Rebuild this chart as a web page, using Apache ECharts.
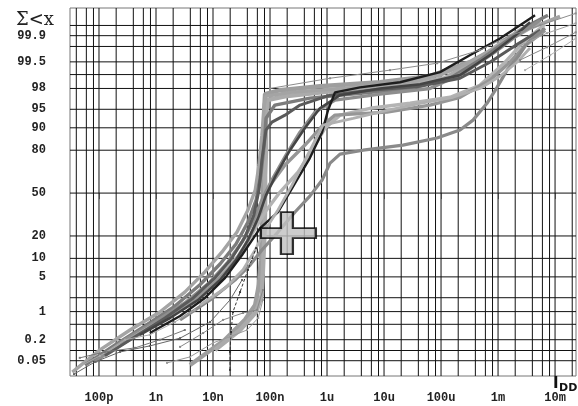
<!DOCTYPE html>
<html>
<head>
<meta charset="utf-8">
<style>
  html, body { margin: 0; padding: 0; background: #fff; }
  #chart { width: 578px; height: 406px; }
</style>
<script src="https://cdn.jsdelivr.net/npm/echarts@6.0.0/dist/echarts.min.js"></script>
</head>
<body>
<div id="chart"></div>
<script>
// Cumulative distribution of supply current I_DD on a normal-probability scale.
// Each curve: [current in A, cumulative percent].
const curveA = [[3.4e-11,0.022],[1.04e-10,0.104],[3.5e-10,0.36],[1.17e-9,0.98],[3.2e-9,2.6],[7.2e-9,6.1],[1.44e-8,12.4],[2.64e-8,22.2],[4.1e-8,37.0],[5.5e-8,52.3],[6.4e-8,70.9],[7.2e-8,87.2],[7.9e-8,95.8],[8.5e-8,97.14],[2.24e-7,97.6],[1.69e-6,98.0],[1.91e-5,98.37],[9.6e-5,98.97],[3.2e-4,99.49],[1.08e-3,99.81],[3.64e-3,99.939],[1.22e-2,99.974]];
const curveB = [[5.7e-11,0.037],[1.91e-10,0.144],[6.4e-10,0.455],[2.15e-9,1.33],[5.9e-9,3.6],[1.33e-8,8.2],[2.53e-8,15.9],[4.1e-8,28.5],[5.7e-8,44.5],[6.9e-8,63.8],[7.9e-8,82.7],[8.5e-8,92.9],[1.22e-7,95.8],[5.0e-7,96.88],[3.8e-6,97.5],[2.86e-5,98.0],[1.44e-4,98.79],[4.8e-4,99.55],[1.33e-3,99.85],[2.98e-3,99.943],[7.5e-3,99.976]];
const curveC = [[8.5e-11,0.046],[2.86e-10,0.20],[9.6e-10,0.57],[3.2e-9,1.55],[8.9e-9,4.05],[1.83e-8,8.8],[3.23e-8,16.8],[5.0e-8,28.5],[7.2e-8,44.5],[1.08e-7,60.1],[1.91e-7,77.2],[3.36e-7,88.4],[6.2e-7,94.4],[1.38e-6,96.6],[8.5e-6,97.39],[6.4e-5,98.0],[2.64e-4,99.12],[8.9e-4,99.72],[2.43e-3,99.915],[5.5e-3,99.965]];
const curveD = [[1.56e-10,0.091],[5.2e-10,0.30],[1.76e-9,0.79],[5.5e-9,2.17],[1.33e-8,5.2],[2.75e-8,10.8],[4.83e-8,21.1],[8.2e-8,35.5],[1.5e-7,50.8],[3.1e-7,66.0],[5.5e-7,80.0],[9.2e-7,89.9],[1.69e-6,93.7],[5.7e-6,95.2],[2.86e-5,96.1],[1.44e-4,97.0],[4.8e-4,98.29],[1.33e-3,99.49],[2.98e-3,99.865],[6.7e-3,99.954]];
const curveE = [[2.34e-10,0.144],[7.8e-10,0.41],[2.64e-9,1.09],[7.9e-9,2.86],[1.83e-8,6.6],[3.36e-8,13.2],[5.2e-8,24.6],[7.2e-8,40.7],[1.0e-7,56.2],[1.83e-7,70.9],[4.1e-7,82.7],[8.5e-7,90.9],[1.38e-6,93.7],[1.13e-5,94.4],[6.4e-5,95.8],[2.15e-4,97.0],[7.2e-4,98.67],[1.62e-3,99.49],[2.98e-3,99.81],[6.7e-3,99.93]];
const curveF = [[5.2e-10,0.27],[1.76e-9,0.71],[5.5e-9,1.80],[1.33e-8,4.4],[2.53e-8,9.4],[4.1e-8,17.8],[6.2e-8,31.2],[8.5e-8,48.4],[1.27e-7,63.8],[2.24e-7,80.0],[4.1e-7,89.9],[7.5e-7,95.2],[1.69e-6,97.27],[8.5e-6,98.0],[4.3e-5,98.37],[2.15e-4,98.97],[7.2e-4,99.66],[1.99e-3,99.90],[3.64e-3,99.96]];
const curveG = [[7.8e-10,0.30],[2.64e-9,0.79],[7.2e-9,1.98],[1.63e-8,4.8],[3.23e-8,11.2],[6.7e-8,24.6],[1.38e-7,35.5],[2.75e-7,57.8],[5.0e-7,75.4],[8.2e-7,88.4],[1.04e-6,94.8],[1.38e-6,97.6],[3.8e-6,98.1],[1.91e-5,98.52],[9.6e-5,99.12],[3.2e-4,99.66],[1.08e-3,99.88],[2.43e-3,99.951],[4.46e-3,99.976]];
const curveH = [[1.27e-10,0.070],[4.3e-10,0.24],[1.44e-9,0.71],[4.5e-9,1.98],[1.08e-8,4.8],[2.15e-8,10.1],[3.64e-8,19.4],[5.2e-8,33.3],[6.4e-8,52.3],[7.2e-8,74.1],[8.5e-8,89.2],[1.08e-7,91.8],[1.83e-7,93.7],[3.36e-7,95.8],[1.13e-6,97.27],[5.7e-6,97.83],[4.3e-5,98.2],[2.15e-4,98.79],[7.2e-4,99.49],[1.99e-3,99.81],[5.5e-3,99.93]];
const curveLow = [[2.64e-9,0.64],[8.9e-9,1.80],[2.43e-8,4.4],[4.46e-8,7.9],[7.2e-8,13.2],[1.38e-7,22.2],[2.75e-7,35.5],[5.0e-7,47.6],[8.2e-7,60.1],[1.13e-6,72.2],[1.69e-6,77.8],[4.3e-6,80.0],[2.15e-5,82.7],[8.5e-5,86.0],[2.15e-4,89.2],[3.64e-4,92.4],[6.4e-4,96.1],[9.6e-4,98.1],[1.44e-3,99.21],[2.15e-3,99.59],[3.36e-3,99.85],[6.7e-3,99.939]];
const curveMid = [[5.9e-9,1.40],[1.63e-8,3.1],[3.36e-8,6.6],[5.5e-8,13.2],[8.2e-8,23.4],[1.38e-7,37.0],[2.43e-7,56.2],[4.1e-7,74.1],[6.2e-7,85.1],[8.5e-7,90.9],[2.86e-6,92.9],[1.13e-5,94.8],[4.3e-5,96.1],[1.62e-4,97.0],[4.8e-4,98.0],[1.08e-3,98.91],[2.15e-3,99.49],[3.64e-3,99.78]];
const curveSteep1 = [[3.95e-9,0.037],[1.63e-8,0.20],[3.64e-8,0.64],[5.5e-8,1.40],[6.4e-8,3.6],[6.9e-8,9.4],[7.2e-8,23.4],[7.5e-8,44.5],[7.5e-8,67.4],[7.9e-8,85.1],[7.9e-8,94.8],[8.2e-8,97.39],[1.5e-7,97.83],[7.5e-7,98.2],[8.5e-6,98.52],[6.4e-5,98.91],[3.2e-4,99.49],[1.08e-3,99.81],[2.98e-3,99.939]];
const curveSteep2 = [[1.08e-8,0.104],[2.98e-8,0.36],[5.7e-8,0.98],[7.2e-8,2.28],[7.5e-8,6.6],[7.9e-8,17.8],[8.2e-8,37.0],[8.2e-8,63.8],[8.5e-8,80.0],[8.5e-8,91.8],[8.9e-8,96.6],[1.83e-7,97.14],[1.69e-6,97.83],[1.91e-5,98.2],[1.17e-4,98.79],[4.8e-4,99.59],[1.33e-3,99.865],[3.64e-3,99.954]];
const sparse1 = [[3.64e-11,0.019],[8.5e-11,0.046],[2.34e-10,0.091],[7.8e-10,0.135],[2.64e-9,0.22],[8.9e-9,0.57],[1.99e-8,1.80],[3.23e-8,4.4]];
const sparse2 = [[1.99e-8,0.026],[1.99e-8,0.091],[2.07e-8,0.32],[2.24e-8,0.98],[2.98e-8,2.6],[4.1e-8,6.6],[5.7e-8,14.0]];
const sparse3 = [[1.56e-9,0.043],[3.95e-9,0.065],[1.0e-8,0.164],[1.99e-8,0.24],[3.95e-8,0.36],[6.2e-8,0.71],[7.5e-8,1.80]];
const sparse4 = [[2.64e-9,0.127],[6.7e-9,0.30],[1.5e-8,0.64],[3.36e-8,0.93],[5.9e-8,1.09],[7.5e-8,2.86]];
const sparse5 = [[4.1e-11,0.030],[1.04e-10,0.070],[2.86e-10,0.20],[7.8e-10,0.27],[2.15e-9,0.57],[4.8e-9,1.09]];
const sparse6 = [[4.6e-11,0.061],[1.27e-10,0.091],[4.3e-10,0.119],[1.17e-9,0.20],[3.2e-9,0.36]];
const sparse7 = [[1.0e-7,98.0],[1.13e-6,98.79],[1.27e-5,99.21],[8.5e-5,99.46],[4.8e-4,99.75],[1.62e-3,99.90],[5.5e-3,99.951],[2.3e-2,99.979]];
const sparse8 = [[2.43e-3,99.81],[7.2e-3,99.915],[2.3e-2,99.957]];
const sparse9 = [[2.43e-3,99.55],[7.2e-3,99.79],[2.3e-2,99.92]];
const sparse10 = [[2.98e-3,99.21],[8.2e-3,99.66],[2.3e-2,99.88]];

// Position of the cross marker [A, %]
const crossPoint = [[2.1e-7, 21.6]];

// Axis extents and grid
const xRange = [3.1e-11, 2.33e-2];
const yRange = [0.0165, 99.986];
const xTickValues = [1e-10, 1e-9, 1e-8, 1e-7, 1e-6, 1e-5, 1e-4, 1e-3, 1e-2];
const xTickLabels = ['100p', '1n', '10n', '100n', '1u', '10u', '100u', '1m', '10m'];
const xGridMantissas = [1, 2, 4, 6, 8];
const yTickLabels = [99.9, 99.5, 98, 95, 90, 80, 50, 20, 10, 5, 1, 0.2, 0.05];
const yGridLines = [99.95, 99.9, 99.8, 99.5, 99, 98, 95, 90, 80, 50, 20, 10, 5, 2, 1, 0.5, 0.2, 0.1, 0.05];

// inverse of the standard normal CDF (Acklam's approximation)
function probit(p) {
  const a = [-3.969683028665376e+01, 2.209460984245205e+02, -2.759285104469687e+02, 1.383577518672690e+02, -3.066479806614716e+01, 2.506628277459239e+00];
  const b = [-5.447609879822406e+01, 1.615858368580409e+02, -1.556989798598866e+02, 6.680131188771972e+01, -1.328068155288572e+01];
  const c = [-7.784894002430293e-03, -3.223964580411365e-01, -2.400758277161838e+00, -2.549732539343734e+00, 4.374664141464968e+00, 2.938163982698783e+00];
  const d = [7.784695709041462e-03, 3.224671290700398e-01, 2.445134137142996e+00, 3.754408661907416e+00];
  const pl = 0.02425, ph = 1 - pl;
  let q, r;
  if (p < pl) {
    q = Math.sqrt(-2 * Math.log(p));
    return (((((c[0]*q+c[1])*q+c[2])*q+c[3])*q+c[4])*q+c[5]) / ((((d[0]*q+d[1])*q+d[2])*q+d[3])*q+1);
  }
  if (p <= ph) {
    q = p - 0.5; r = q * q;
    return (((((a[0]*r+a[1])*r+a[2])*r+a[3])*r+a[4])*r+a[5])*q / (((((b[0]*r+b[1])*r+b[2])*r+b[3])*r+b[4])*r+1);
  }
  q = Math.sqrt(-2 * Math.log(1 - p));
  return -(((((c[0]*q+c[1])*q+c[2])*q+c[3])*q+c[4])*q+c[5]) / ((((d[0]*q+d[1])*q+d[2])*q+d[3])*q+1);
}
const toZ = pct => probit(pct / 100);
const toPlot = pts => pts.map(([i, p]) => [i, toZ(p)]);
const zMin = toZ(yRange[0]);
const zMax = toZ(yRange[1]);

// vertical grid: 1,2,4,6,8 per decade inside the axis range
const xGridLines = [];
for (let e = -12; e <= -1; e++) {
  xGridMantissas.forEach(m => {
    const v = m * Math.pow(10, e);
    if (v > xRange[0] && v < xRange[1]) xGridLines.push(v);
  });
}

const curveStyles = [
  { data: curveSteep1, color: '#9e9e9e', width: 4.5 },
  { data: curveSteep2, color: '#ababab', width: 4.5 },
  { data: curveA, color: '#a4a4a4', width: 3.4 },
  { data: curveB, color: '#7c7c7c', width: 3.4 },
  { data: curveC, color: '#8e8e8e', width: 3.4 },
  { data: curveD, color: '#b4b4b4', width: 3.4 },
  { data: curveE, color: '#969696', width: 3.4 },
  { data: curveH, color: '#5a5a5a', width: 3 },
  { data: curveF, color: '#444444', width: 2.6 },
  { data: curveG, color: '#1e1e1e', width: 2.4 },
  { data: curveLow, color: '#8a8a8a', width: 3.2 },
  { data: curveMid, color: '#b0b0b0', width: 2.8 },
  { data: sparse1, color: '#666666', width: 1 },
  { data: sparse2, color: '#333333', width: 1, dashed: true },
  { data: sparse3, color: '#999999', width: 1 },
  { data: sparse4, color: '#888888', width: 1 },
  { data: sparse5, color: '#aaaaaa', width: 1 },
  { data: sparse6, color: '#777777', width: 1 },
  { data: sparse7, color: '#8c8c8c', width: 1 },
  { data: sparse8, color: '#a0a0a0', width: 1 },
  { data: sparse9, color: '#8a8a8a', width: 1 },
  { data: sparse10, color: '#b0b0b0', width: 1 }
];

const series = [];

// grid lines as thin line series, placed through the axes
const gridStyle = { color: '#111', width: 1 };
xGridLines.forEach(v => {
  series.push({
    type: 'line', silent: true, z: 1, showSymbol: false, animation: false,
    lineStyle: gridStyle,
    data: [[v, zMin], [v, zMax]]
  });
});
yGridLines.forEach(p => {
  const z = toZ(p);
  series.push({
    type: 'line', silent: true, z: 1, showSymbol: false, animation: false,
    lineStyle: gridStyle,
    data: [[xRange[0], z], [xRange[1], z]]
  });
});

curveStyles.forEach(s => {
  series.push({
    type: 'line',
    data: toPlot(s.data),
    z: 3,
    showSymbol: s.width <= 1,
    symbol: 'rect',
    symbolSize: 2,
    itemStyle: { color: s.color },
    lineStyle: { color: s.color, width: s.width, type: s.dashed ? [3, 2] : 'solid' },
    animation: false
  });
});

// cross marker
series.push({
  type: 'scatter',
  data: toPlot(crossPoint),
  z: 10,
  symbol: 'path://M20,0 H32 V16 H55 V26 H32 V42 H20 V26 H0 V16 H20 Z',
  symbolSize: [55, 42],
  itemStyle: { color: '#c0c0c0', borderColor: '#000', borderWidth: 2 },
  animation: false
});

const chart = echarts.init(document.getElementById('chart'), null, { renderer: 'canvas' });
chart.setOption({
  animation: false,
  backgroundColor: '#fff',
  grid: { left: 70, right: 2, top: 8, bottom: 30, show: true, borderColor: '#777', borderWidth: 1 },
  xAxis: {
    type: 'log',
    logBase: 10,
    min: xRange[0],
    max: xRange[1],
    axisLine: { show: false },
    splitLine: { show: false },
    minorTick: { show: false },
    axisTick: { show: true, length: 6, lineStyle: { color: '#888' }, customValues: xTickValues },
    axisLabel: {
      customValues: xTickValues,
      margin: 16,
      fontFamily: 'Liberation Mono',
      fontWeight: 'bold',
      fontSize: 12,
      color: '#222',
      formatter: v => {
        const e = Math.round(Math.log10(v));
        const idx = xTickValues.findIndex(t => Math.round(Math.log10(t)) === e);
        return idx >= 0 ? xTickLabels[idx] : '';
      }
    }
  },
  yAxis: {
    type: 'value',
    min: zMin,
    max: zMax,
    axisLine: { show: false },
    splitLine: { show: false },
    axisTick: { show: false },
    axisLabel: {
      customValues: yTickLabels.map(toZ),
      margin: 24,
      fontFamily: 'Liberation Mono',
      fontWeight: 'bold',
      fontSize: 12,
      color: '#222',
      formatter: v => {
        const hit = yTickLabels.find(p => Math.abs(toZ(p) - v) < 1e-6);
        return hit === undefined ? '' : String(hit);
      }
    }
  },
  graphic: [
    { type: 'text', left: 16, top: 11, style: { text: 'Σ<x', font: '18px "DejaVu Serif"', fill: '#222' } },
    { type: 'text', left: 553, top: 377, style: { text: 'I', font: 'bold 15px "DejaVu Sans"', fill: '#111' } },
    { type: 'text', left: 559, top: 383, style: { text: 'DD', font: 'bold 11px "DejaVu Sans"', fill: '#111' } }
  ],
  series: series
});
</script>
</body>
</html>
